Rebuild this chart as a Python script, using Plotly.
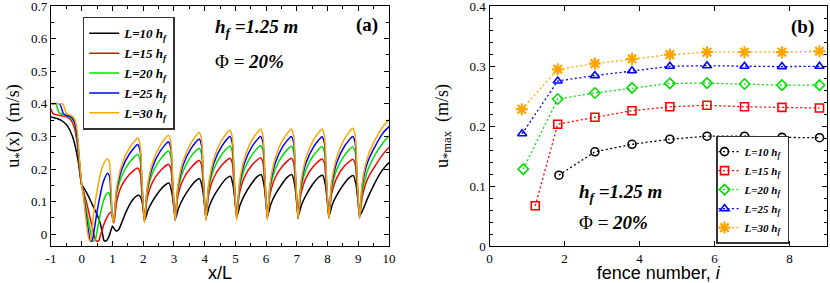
import plotly.graph_objects as go

# ---------------- Panel (a): u*(x) profiles ----------------
labels = ["L=10 h<sub>f</sub>", "L=15 h<sub>f</sub>", "L=20 h<sub>f</sub>",
          "L=25 h<sub>f</sub>", "L=30 h<sub>f</sub>"]
colors = ["#000000", "#ff0000", "#00e000", "#0000ff", "#ffa500"]

x_L10 = [-1, -0.8, -0.6, -0.45, -0.3, -0.2, -0.1, 0, 0.05, 0.2, 0.35, 0.5, 0.6, 0.68, 0.73, 0.8, 0.88, 0.95, 1.0, 1.05, 1.12, 1.2,
         1.3, 1.45, 1.6, 1.75, 1.86, 1.95, 2.01,
         2.06, 2.15, 2.3, 2.5, 2.7, 2.84, 2.93, 3.0,
         3.06, 3.15, 3.3, 3.5, 3.7, 3.84, 3.93, 4.0,
         4.06, 4.15, 4.3, 4.5, 4.7, 4.84, 4.93, 5.0,
         5.06, 5.15, 5.3, 5.5, 5.7, 5.84, 5.93, 6.0,
         6.06, 6.15, 6.3, 6.5, 6.7, 6.84, 6.93, 7.0,
         7.06, 7.15, 7.3, 7.5, 7.7, 7.84, 7.93, 8.0,
         8.06, 8.15, 8.3, 8.5, 8.7, 8.84, 8.93, 9.0,
         9.06, 9.15, 9.3, 9.5, 9.7, 9.85, 10.0]
y_L10 = [0.36, 0.355, 0.345, 0.33, 0.30, 0.265, 0.215, 0.15, 0.145, 0.12, 0.09, 0.06, 0.035, 0.0, -0.02, -0.02, -0.008, 0.012, 0.025, 0.018, 0.01, 0.014,
         0.035, 0.07, 0.098, 0.115, 0.12, 0.105, 0.075,
         0.045, 0.073, 0.101, 0.129, 0.150, 0.157, 0.129, 0.082,
         0.050, 0.080, 0.110, 0.140, 0.163, 0.170, 0.140, 0.090,
         0.055, 0.086, 0.117, 0.147, 0.171, 0.178, 0.147, 0.094,
         0.058, 0.089, 0.121, 0.152, 0.176, 0.183, 0.152, 0.097,
         0.060, 0.091, 0.122, 0.152, 0.176, 0.183, 0.152, 0.097,
         0.060, 0.090, 0.120, 0.151, 0.174, 0.181, 0.151, 0.096,
         0.060, 0.090, 0.120, 0.150, 0.173, 0.180, 0.150, 0.096,
         0.060, 0.075, 0.110, 0.150, 0.185, 0.205, 0.220]

x_L15 = [-1, -0.95, -0.85, -0.7, -0.5, -0.35, -0.25, -0.15, -0.08, 0, 0.05, 0.2, 0.32, 0.42, 0.47, 0.55, 0.62, 0.72, 0.82, 0.92, 0.97, 1.01,
         1.05, 1.14, 1.3, 1.55, 1.82, 1.9, 1.96,
         2.04, 2.13, 2.3, 2.55, 2.82, 2.9, 2.96,
         3.04, 3.13, 3.3, 3.55, 3.82, 3.9, 3.96,
         4.04, 4.13, 4.3, 4.55, 4.82, 4.9, 4.96,
         5.04, 5.13, 5.3, 5.55, 5.82, 5.9, 5.96,
         6.04, 6.13, 6.3, 6.55, 6.82, 6.9, 6.96,
         7.04, 7.13, 7.3, 7.55, 7.82, 7.9, 7.96,
         8.04, 8.13, 8.3, 8.55, 8.82, 8.9, 8.96,
         9.04, 9.13, 9.3, 9.55, 9.8, 10.0]
y_L15 = [0.385, 0.372, 0.367, 0.364, 0.36, 0.35, 0.33, 0.28, 0.21, 0.15, 0.135, 0.08, 0.03, -0.01, -0.02, -0.02, 0.0, 0.03, 0.052, 0.066, 0.068, 0.05,
         0.035, 0.102, 0.149, 0.183, 0.203, 0.190, 0.119,
         0.040, 0.110, 0.159, 0.194, 0.215, 0.201, 0.128,
         0.045, 0.117, 0.168, 0.204, 0.226, 0.212, 0.135,
         0.048, 0.122, 0.174, 0.211, 0.233, 0.218, 0.141,
         0.050, 0.124, 0.176, 0.213, 0.235, 0.220, 0.143,
         0.050, 0.123, 0.174, 0.211, 0.233, 0.218, 0.142,
         0.050, 0.122, 0.173, 0.209, 0.231, 0.217, 0.140,
         0.052, 0.123, 0.173, 0.209, 0.230, 0.216, 0.141,
         0.052, 0.115, 0.170, 0.210, 0.245, 0.267]

x_L20 = [-1, -0.85, -0.8, -0.75, -0.6, -0.45, -0.3, -0.22, -0.15, -0.08, 0, 0.05, 0.18, 0.28, 0.35, 0.43, 0.5, 0.6, 0.7, 0.8, 0.88, 0.93, 0.98,
         1.04, 1.13, 1.3, 1.55, 1.82, 1.9, 1.96,
         2.04, 2.13, 2.3, 2.55, 2.82, 2.9, 2.96,
         3.04, 3.13, 3.3, 3.55, 3.82, 3.9, 3.96,
         4.04, 4.13, 4.3, 4.55, 4.82, 4.9, 4.96,
         5.04, 5.13, 5.3, 5.55, 5.82, 5.9, 5.96,
         6.04, 6.13, 6.3, 6.55, 6.82, 6.9, 6.96,
         7.04, 7.13, 7.3, 7.55, 7.82, 7.9, 7.96,
         8.04, 8.13, 8.3, 8.55, 8.82, 8.9, 8.96,
         9.04, 9.13, 9.3, 9.55, 9.8, 10.0]
y_L20 = [0.40, 0.40, 0.39, 0.375, 0.366, 0.362, 0.352, 0.335, 0.29, 0.22, 0.15, 0.13, 0.06, 0.01, -0.02, -0.02, 0.01, 0.06, 0.10, 0.122, 0.128, 0.115, 0.07,
         0.038, 0.121, 0.179, 0.220, 0.245, 0.228, 0.142,
         0.042, 0.127, 0.187, 0.229, 0.255, 0.238, 0.149,
         0.046, 0.133, 0.194, 0.238, 0.264, 0.246, 0.155,
         0.048, 0.137, 0.200, 0.244, 0.271, 0.253, 0.160,
         0.050, 0.139, 0.201, 0.245, 0.272, 0.254, 0.161,
         0.050, 0.138, 0.200, 0.244, 0.270, 0.252, 0.160,
         0.050, 0.138, 0.199, 0.243, 0.269, 0.251, 0.160,
         0.052, 0.138, 0.199, 0.242, 0.268, 0.251, 0.160,
         0.052, 0.130, 0.195, 0.245, 0.280, 0.302]

x_L25 = [-1, -0.72, -0.65, -0.6, -0.5, -0.4, -0.3, -0.22, -0.15, -0.08, 0, 0.05, 0.15, 0.22, 0.28, 0.34, 0.4, 0.5, 0.6, 0.7, 0.84, 0.9, 0.95, 1.0,
         1.04, 1.13, 1.3, 1.55, 1.82, 1.9, 1.96,
         2.04, 2.13, 2.3, 2.55, 2.82, 2.9, 2.96,
         3.04, 3.13, 3.3, 3.55, 3.82, 3.9, 3.96,
         4.04, 4.13, 4.3, 4.55, 4.82, 4.9, 4.96,
         5.04, 5.13, 5.3, 5.55, 5.82, 5.9, 5.96,
         6.04, 6.13, 6.3, 6.55, 6.82, 6.9, 6.96,
         7.04, 7.13, 7.3, 7.55, 7.82, 7.9, 7.96,
         8.04, 8.13, 8.3, 8.55, 8.82, 8.9, 8.96,
         9.04, 9.13, 9.3, 9.55, 9.8, 10.0]
y_L25 = [0.40, 0.40, 0.385, 0.37, 0.365, 0.362, 0.356, 0.34, 0.30, 0.23, 0.15, 0.125, 0.055, 0.01, -0.02, -0.02, 0.01, 0.07, 0.12, 0.16, 0.187, 0.18, 0.12, 0.05,
         0.035, 0.131, 0.198, 0.246, 0.275, 0.256, 0.155,
         0.038, 0.136, 0.205, 0.254, 0.284, 0.264, 0.161,
         0.042, 0.142, 0.212, 0.262, 0.292, 0.272, 0.167,
         0.045, 0.147, 0.218, 0.269, 0.300, 0.280, 0.173,
         0.047, 0.148, 0.219, 0.270, 0.300, 0.280, 0.174,
         0.048, 0.149, 0.219, 0.270, 0.300, 0.280, 0.174,
         0.048, 0.148, 0.219, 0.269, 0.299, 0.279, 0.174,
         0.050, 0.150, 0.220, 0.270, 0.300, 0.280, 0.175,
         0.050, 0.150, 0.220, 0.270, 0.310, 0.330]

x_L30 = [-1, -0.8, -0.62, -0.55, -0.5, -0.4, -0.3, -0.22, -0.15, -0.08, 0, 0.05, 0.12, 0.2, 0.25, 0.3, 0.36, 0.44, 0.52, 0.62, 0.72, 0.84, 0.9, 0.95, 1.0,
         1.04, 1.13, 1.3, 1.55, 1.82, 1.9, 1.96,
         2.04, 2.13, 2.3, 2.55, 2.82, 2.9, 2.96,
         3.04, 3.13, 3.3, 3.55, 3.82, 3.9, 3.96,
         4.04, 4.13, 4.3, 4.55, 4.82, 4.9, 4.96,
         5.04, 5.13, 5.3, 5.55, 5.82, 5.9, 5.96,
         6.04, 6.13, 6.3, 6.55, 6.82, 6.9, 6.96,
         7.04, 7.13, 7.3, 7.55, 7.82, 7.9, 7.96,
         8.04, 8.13, 8.3, 8.55, 8.82, 8.9, 8.96,
         9.04, 9.13, 9.3, 9.55, 9.8, 10.0]
y_L30 = [0.40, 0.40, 0.40, 0.385, 0.37, 0.366, 0.362, 0.35, 0.32, 0.24, 0.15, 0.12, 0.06, 0.0, -0.02, -0.015, 0.04, 0.10, 0.144, 0.19, 0.217, 0.231, 0.222, 0.15, 0.05,
         0.035, 0.139, 0.212, 0.264, 0.295, 0.274, 0.165,
         0.035, 0.143, 0.218, 0.272, 0.304, 0.282, 0.170,
         0.040, 0.149, 0.225, 0.279, 0.312, 0.290, 0.176,
         0.041, 0.153, 0.231, 0.287, 0.320, 0.298, 0.181,
         0.044, 0.156, 0.234, 0.290, 0.323, 0.301, 0.184,
         0.044, 0.156, 0.234, 0.290, 0.323, 0.301, 0.184,
         0.046, 0.157, 0.234, 0.290, 0.323, 0.301, 0.185,
         0.048, 0.159, 0.236, 0.292, 0.325, 0.303, 0.187,
         0.047, 0.160, 0.235, 0.290, 0.330, 0.352]

profiles_x = [x_L10, x_L15, x_L20, x_L25, x_L30]
profiles_y = [y_L10, y_L15, y_L20, y_L25, y_L30]

# ---------------- Panel (b): u*max vs fence number ----------------
fx_L10 = [1.85, 2.81, 3.80, 4.81, 5.80, 6.80, 7.80, 8.80]
fy_L10 = [0.118, 0.157, 0.1695, 0.178, 0.183, 0.183, 0.181, 0.1805]
fx_L15 = [1.22, 1.82, 2.81, 3.80, 4.81, 5.80, 6.80, 7.80, 8.80]
fy_L15 = [0.067, 0.203, 0.2145, 0.2255, 0.232, 0.2345, 0.232, 0.231, 0.230]
fx_L20 = [0.90, 1.82, 2.81, 3.80, 4.81, 5.80, 6.80, 7.80, 8.80]
fy_L20 = [0.128, 0.245, 0.255, 0.2635, 0.271, 0.2715, 0.270, 0.268, 0.268]
fx_L25 = [0.87, 1.82, 2.81, 3.80, 4.81, 5.80, 6.80, 7.80, 8.80]
fy_L25 = [0.187, 0.275, 0.284, 0.292, 0.2995, 0.3005, 0.2995, 0.299, 0.2995]
fx_L30 = [0.86, 1.82, 2.81, 3.80, 4.81, 5.80, 6.80, 7.80, 8.80]
fy_L30 = [0.228, 0.2945, 0.304, 0.312, 0.319, 0.323, 0.323, 0.323, 0.3245]

fence_x = [fx_L10, fx_L15, fx_L20, fx_L25, fx_L30]
fence_y = [fy_L10, fy_L15, fy_L20, fy_L25, fy_L30]
symbols = ["circle-open", "square-open", "diamond-open", "triangle-up-open", "asterisk-open"]

left_xticks = list(range(-1, 11))
left_xticktext = [str(v) for v in left_xticks]
left_yticks = [0, 0.1, 0.2, 0.3, 0.4, 0.5, 0.6, 0.7]
left_yticktext = ["0", "0.1", "0.2", "0.3", "0.4", "0.5", "0.6", "0.7"]
right_xticks = [0, 2, 4, 6, 8]
right_yticks = [0, 0.1, 0.2, 0.3, 0.4]
right_yticktext = ["0", "0.1", "0.2", "0.3", "0.4"]

SERIF = "Liberation Serif"
SANS = "Liberation Sans"

fig = go.Figure()

for xs, ys, lab, col in zip(profiles_x, profiles_y, labels, colors):
    fig.add_trace(go.Scatter(
        x=xs, y=ys, mode="lines", name="<b><i>" + lab + "</i></b>",
        line=dict(color=col, width=1.5, shape="spline", smoothing=0.6),
        xaxis="x", yaxis="y", legend="legend"))

for xs, ys, lab, col, sym in zip(fence_x, fence_y, labels, colors, symbols):
    mk = dict(symbol=sym, size=8, color=col, line=dict(color=col, width=1.6))
    if sym == "asterisk-open":
        mk = dict(symbol=sym, size=10, color=col, line=dict(color=col, width=2.2))
    fig.add_trace(go.Scatter(
        x=xs, y=ys, mode="lines+markers", name="<b><i>" + lab + "</i></b>",
        line=dict(color=col, width=1.3, dash="2px,2.5px"),
        marker=mk, xaxis="x2", yaxis="y2", legend="legend2"))

tickfont = dict(family=SERIF, size=13, color="black")
axis_common = dict(showline=True, linecolor="black", linewidth=1.3, mirror="allticks",
                   ticks="inside", ticklen=5, tickwidth=1, tickcolor="black",
                   showgrid=False, zeroline=False, automargin=False,
                   ticklabeloverflow="allow", tickfont=tickfont)

fig.update_layout(
    template="none",
    width=830, height=283,
    margin=dict(l=51, r=3, t=6, b=37, autoexpand=False),
    paper_bgcolor="white", plot_bgcolor="white",
    xaxis=dict(axis_common, domain=[0, 0.4356], range=[-1, 10],
               tickmode="array", tickvals=left_xticks, ticktext=left_xticktext,
               minor=dict(dtick=0.5, ticklen=3, ticks="inside", tickcolor="black"),
               title=dict(text="x/L", font=dict(family=SANS, size=18, color="black"), standoff=6)),
    yaxis=dict(axis_common, domain=[0, 1], range=[-0.036, 0.7],
               tickmode="array", tickvals=left_yticks, ticktext=left_yticktext,
               minor=dict(dtick=0.05, tick0=0, ticklen=3, ticks="inside", tickcolor="black"),
               title=dict(text="u<sub>*</sub>(x)  (m/s)", font=dict(family=SERIF, size=18, color="black"), standoff=6)),
    xaxis2=dict(axis_common, domain=[0.5651, 1.0], range=[0, 9],
                tickmode="array", tickvals=right_xticks,
                anchor="y2",
                title=dict(text="fence number, <i>i</i>", font=dict(family=SANS, size=18, color="black"), standoff=6)),
    yaxis2=dict(axis_common, domain=[0, 1], range=[0, 0.4], anchor="x2",
                tickmode="array", tickvals=right_yticks, ticktext=right_yticktext,
                minor=dict(dtick=0.02, tick0=0, ticklen=3, ticks="inside", tickcolor="black"),
                title=dict(text="u<sub>*max</sub>  (m/s)", font=dict(family=SERIF, size=18, color="black"), standoff=16)),
    legend=dict(x=0.0409, y=0.955, xanchor="left", yanchor="top",
                bgcolor="white", bordercolor="#333333", borderwidth=1.5,
                font=dict(family=SERIF, size=13, color="black"), tracegroupgap=0),
    legend2=dict(x=0.857, y=0.46, xanchor="left", yanchor="top", indentation=-13,
                 bgcolor="white", bordercolor="#333333", borderwidth=1.5,
                 font=dict(family=SERIF, size=11, color="black")),
    showlegend=True,
)

ann_font = dict(family=SERIF, size=19, color="black")
annotations = [
    dict(text="<b>(a)</b>", x=0.407, y=0.921, xanchor="center", yanchor="middle", font=dict(family=SERIF, size=19, color="black")),
    dict(text="<b><i>h<sub>f</sub> =1.25 m</i></b>", x=0.2088, y=0.908, xanchor="left", yanchor="middle", font=ann_font),
    dict(text="Φ = <b><i>20%</i></b>", x=0.2088, y=0.767, xanchor="left", yanchor="middle", font=ann_font),
    dict(text="<b>(b)</b>", x=0.969, y=0.9125, xanchor="center", yanchor="middle", font=dict(family=SERIF, size=19, color="black")),
    dict(text="<b><i>h<sub>f</sub> =1.25 m</i></b>", x=0.678, y=0.221, xanchor="left", yanchor="middle", font=ann_font),
    dict(text="Φ = <b><i>20%</i></b>", x=0.678, y=0.10, xanchor="left", yanchor="middle", font=ann_font),
]
for a in annotations:
    fig.add_annotation(xref="paper", yref="paper", showarrow=False, **a)

fig.write_html("out.html", config={"displayModeBar": False},
               post_script="document.body.style.margin='0';document.body.style.overflow='hidden';")
